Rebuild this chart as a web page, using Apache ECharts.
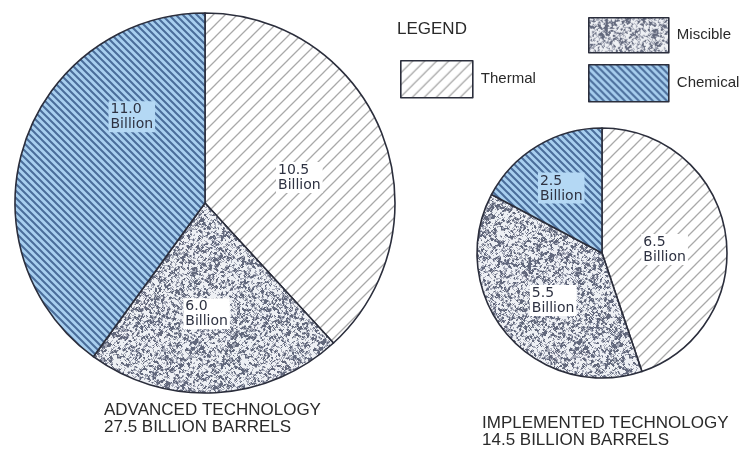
<!DOCTYPE html>
<html>
<head>
<meta charset="utf-8">
<script src="https://cdn.jsdelivr.net/npm/echarts@6/dist/echarts.min.js"></script>
<style>
  html, body { margin: 0; padding: 0; background: #ffffff; }
  #chart { width: 742px; height: 453px; }
</style>
</head>
<body>
<div id="chart"></div>
<script>
// Recovery categories and reserves (billion barrels)
const categories = ['Thermal', 'Miscible', 'Chemical'];
const advancedValues = [10.5, 6.0, 11.0];
const implementedValues = [6.5, 5.5, 2.5];
const pieTitles = ['ADVANCED TECHNOLOGY', 'IMPLEMENTED TECHNOLOGY'];

// ---- fill textures ----
function stripeTile(size, base, line, width, dir) {
  const c = document.createElement('canvas');
  c.width = size; c.height = size;
  const g = c.getContext('2d');
  g.fillStyle = base; g.fillRect(0, 0, size, size);
  g.strokeStyle = line; g.lineWidth = width; g.lineCap = 'square';
  g.beginPath();
  for (let k = -1; k <= 1; k++) {
    const o = k * size;
    if (dir === '/') { g.moveTo(o, size); g.lineTo(o + size, 0); }
    else { g.moveTo(o, 0); g.lineTo(o + size, size); }
  }
  g.stroke();
  return c;
}

function hash(i) {
  let x = Math.imul(i ^ 0x9e3779b9, 0x85ebca6b);
  x ^= x >>> 13; x = Math.imul(x, 0xc2b2ae35); x ^= x >>> 16;
  return (x >>> 0) / 4294967296;
}

// speckled texture: smoothed grain noise (wraps at tile edges), quantised to three tones
function stippleTile(size) {
  const raw = new Float32Array(size * size);
  for (let y = 0; y < size; y++)
    for (let x = 0; x < size; x++) raw[y * size + x] = hash(x * 131 + y * 977 + 3);
  const smooth = new Float32Array(size * size);
  for (let y = 0; y < size; y++) {
    for (let x = 0; x < size; x++) {
      let s = 0;
      for (let j = -1; j <= 1; j++)
        for (let i = -1; i <= 1; i++)
          s += raw[((y + j + size) % size) * size + ((x + i + size) % size)];
      smooth[y * size + x] = 0.7 * (s / 9) + 0.3 * raw[y * size + x];
    }
  }
  const c = document.createElement('canvas');
  c.width = size; c.height = size;
  const g = c.getContext('2d');
  const img = g.createImageData(size, size);
  for (let k = 0; k < size * size; k++) {
    const v = smooth[k];
    let col;
    if (v < 0.40) col = [98, 104, 124];
    else if (v < 0.51) col = [166, 170, 184];
    else col = [238, 240, 244];
    img.data[k * 4] = col[0]; img.data[k * 4 + 1] = col[1]; img.data[k * 4 + 2] = col[2]; img.data[k * 4 + 3] = 255;
  }
  g.putImageData(img, 0, 0);
  return c;
}

const fills = {
  Thermal: { image: stripeTile(12, '#ffffff', '#a9a9a9', 1.3, '/'), repeat: 'repeat' },
  Miscible: { image: stippleTile(128), repeat: 'repeat' },
  Chemical: { image: stripeTile(7, '#a8cfef', '#4a6d9a', 2.0, '\\'), repeat: 'repeat' }
};
const labelBg = { Thermal: '#ffffff', Miscible: '#ffffff', Chemical: '#b4d8f4' };

const outline = '#2b2e3c';
const labelFont = 'DejaVu Sans';
const textFont = 'Liberation Sans';

function buildData(values) {
  return categories.map((name, i) => ({
    name: name,
    value: values[i],
    itemStyle: { color: fills[name] },
    label: { backgroundColor: labelBg[name] }
  }));
}

// label nudges (dx, dy) from the default inside anchor, per category
const nudgeAdvanced = [[3, 10], [-4, 13], [20, -56]];
const nudgeImplemented = [[-2, 7], [1, 5], [-7, -9]];

function pieSeries(values, center, radius, nudges) {
  return {
    type: 'pie',
    center: center,
    radius: radius,
    startAngle: 90,
    clockwise: true,
    animation: false,
    silent: true,
    avoidLabelOverlap: false,
    itemStyle: { borderColor: outline, borderWidth: 1.6 },
    label: {
      show: true,
      position: 'inside',
      formatter: p => '{v|' + p.value.toFixed(1) + '}\n{v|Billion}',
      padding: [1, 2, 0, 2],
      rich: {
        v: { fontFamily: labelFont, fontSize: 14, lineHeight: 15, color: '#2e3242', align: 'left' }
      }
    },
    labelLine: { show: false },
    labelLayout: p => ({ dx: nudges[p.dataIndex][0], dy: nudges[p.dataIndex][1] }),
    emphasis: { disabled: true },
    data: buildData(values)
  };
}

const sum = arr => arr.reduce((a, b) => a + b, 0);

const legendCommon = {
  orient: 'vertical',
  icon: 'rect',
  selectedMode: false,
  itemStyle: { borderColor: outline, borderWidth: 1.6 },
  textStyle: { fontFamily: textFont, fontSize: 15, color: '#2a2a2a', padding: [0, 0, 0, 3] }
};

const titleText = { fontFamily: textFont, fontSize: 17, fontWeight: 'normal', color: '#2a2a2a', lineHeight: 17 };

const chart = echarts.init(document.getElementById('chart'), null, { renderer: 'canvas' });
chart.setOption({
  backgroundColor: '#ffffff',
  animation: false,
  title: [
    {
      text: pieTitles[0] + '\n' + sum(advancedValues).toFixed(1) + ' BILLION BARRELS',
      left: 104, top: 402, padding: 0, textStyle: titleText
    },
    {
      text: pieTitles[1] + '\n' + sum(implementedValues).toFixed(1) + ' BILLION BARRELS',
      left: 482, top: 415, padding: 0, textStyle: titleText
    },
    {
      text: 'LEGEND',
      left: 397, top: 21, padding: 0,
      textStyle: { fontFamily: textFont, fontSize: 17, fontWeight: 'normal', color: '#2a2a2a' }
    }
  ],
  legend: [
    Object.assign({}, legendCommon, { data: [categories[0]], left: 395, top: 55, itemWidth: 72, itemHeight: 37 }),
    Object.assign({}, legendCommon, { data: [categories[1]], left: 583, top: 12, itemWidth: 80, itemHeight: 35 }),
    Object.assign({}, legendCommon, { data: [categories[2]], left: 583, top: 59, itemWidth: 80, itemHeight: 37 })
  ],
  series: [
    pieSeries(advancedValues, [205, 203], 190, nudgeAdvanced),
    pieSeries(implementedValues, [602, 253], 125, nudgeImplemented)
  ]
});
</script>
</body>
</html>
